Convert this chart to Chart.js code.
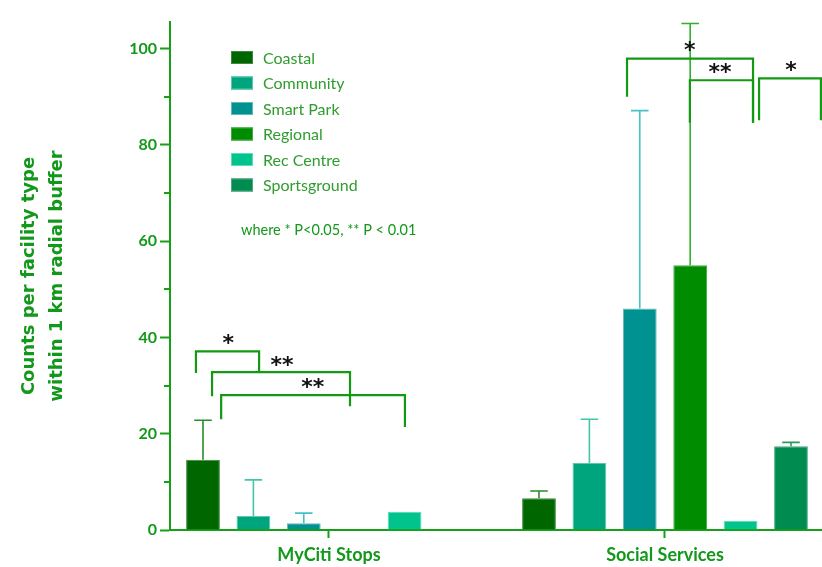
<!DOCTYPE html>
<html>
<head>
<meta charset="utf-8">
<script src="https://cdn.jsdelivr.net/npm/chart.js@4.4.1/dist/chart.umd.min.js"></script>
<style>
    html, body { margin: 0; padding: 0; background: #ffffff; }
    #wrap { width: 822px; height: 567px; position: relative; }
</style>
</head>
<body>
<div id="wrap"><canvas id="facilityChart"></canvas></div>
<script>
const categories = ['MyCiti Stops', 'Social Services'];
const facilityTypes = ['Coastal', 'Community', 'Smart Park', 'Regional', 'Rec Centre', 'Sportsground'];

// mean counts and upper error per category
const coastalMean = [14.6, 6.6];
const coastalErr = [8.2, 1.5];
const communityMean = [2.9, 13.9];
const communityErr = [7.5, 9.1];
const smartParkMean = [1.4, 46.0];
const smartParkErr = [2.1, 41.1];
const regionalMean = [0, 55.0];
const regionalErr = [0, 50.2];
const recCentreMean = [3.8, 1.9];
const recCentreErr = [0, 0];
const sportsgroundMean = [0, 17.4];
const sportsgroundErr = [0, 0.8];

const means = [coastalMean, communityMean, smartParkMean, regionalMean, recCentreMean, sportsgroundMean];
const errors = [coastalErr, communityErr, smartParkErr, regionalErr, recCentreErr, sportsgroundErr];

const colors = {
    axis: '#16a016',
    text: '#12981a',
    legendText: '#2f9c2f',
    fills: ['#006600', '#00a57d', '#009191', '#008c00', '#00c48c', '#008c50'],
    edges: ['#3c8a3c', '#5cc8ac', '#5cbcbc', '#3cb03c', '#5cdcb4', '#4caa7c'],
    whiskers: ['#2a8c2a', '#44c4ac', '#44c2c8', '#2eb02e', '#44d4a8', '#2a9a5a']
};

// significance brackets, x in category units, y in counts
const brackets = [
    { x1: -0.396, x2: -0.208, top: 37.1, foot1: 32.6, foot2: 32.8, label: '*', lx: -0.300, ly: 39.6 },
    { x1: -0.348, x2: 0.0625, top: 32.8, foot1: 27.8, foot2: 25.7, label: '**', lx: -0.140, ly: 35.1 },
    { x1: -0.321, x2: 0.226, top: 28.0, foot1: 23.0, foot2: 21.4, label: '**', lx: -0.048, ly: 30.5 },
    { x1: 0.887, x2: 1.262, top: 97.9, foot1: 90.0, foot2: 84.6, label: '*', lx: 1.074, ly: 100.6 },
    { x1: 1.074, x2: 1.262, top: 93.4, foot1: 84.6, foot2: 84.6, label: '**', lx: 1.164, ly: 95.9 },
    { x1: 1.280, x2: 1.464, top: 93.8, foot1: 85.1, foot2: 85.1, label: '*', lx: 1.375, ly: 96.3 }
];

const datasets = facilityTypes.map((name, i) => ({
    label: name,
    data: means[i].map((v, j) => ({ x: j, y: v })),
    backgroundColor: colors.fills[i],
    borderColor: colors.edges[i],
    borderWidth: ctx => (ctx.raw && ctx.raw.y > 0 ? 1 : 0),
    borderSkipped: 'bottom',
    categoryPercentage: 0.9,
    barPercentage: 0.67
}));

// error whiskers, minor y ticks, legend, significance marks
const overlay = {
    id: 'overlay',
    afterDatasetsDraw(chart) {
        const { ctx, scales: { x, y } } = chart;
        ctx.save();

        // whiskers (upper only)
        datasets.forEach((ds, i) => {
            const meta = chart.getDatasetMeta(i);
            meta.data.forEach((bar, j) => {
                const err = errors[i][j];
                if (!err) return;
                const yTop = y.getPixelForValue(means[i][j] + err);
                const cap = bar.width * 0.26;
                ctx.strokeStyle = colors.whiskers[i];
                ctx.lineWidth = 1.6;
                ctx.beginPath();
                ctx.moveTo(bar.x, bar.y);
                ctx.lineTo(bar.x, yTop);
                ctx.moveTo(bar.x - cap, yTop);
                ctx.lineTo(bar.x + cap, yTop);
                ctx.stroke();
            });
        });

        // shorter minor ticks on y
        ctx.strokeStyle = colors.axis;
        ctx.lineWidth = 2;
        y.ticks.forEach(t => {
            if (t.value % 20 === 0) return;
            const py = Math.round(y.getPixelForValue(t.value));
            ctx.beginPath();
            ctx.moveTo(chart.chartArea.left - 6, py);
            ctx.lineTo(chart.chartArea.left, py);
            ctx.stroke();
        });

        // brackets
        ctx.strokeStyle = '#129a12';
        ctx.lineWidth = 2.2;
        ctx.lineJoin = 'miter';
        brackets.forEach(b => {
            const xa = x.getPixelForValue(b.x1);
            const xb = x.getPixelForValue(b.x2);
            ctx.beginPath();
            ctx.moveTo(xa, y.getPixelForValue(b.foot1));
            ctx.lineTo(xa, y.getPixelForValue(b.top));
            ctx.lineTo(xb, y.getPixelForValue(b.top));
            ctx.lineTo(xb, y.getPixelForValue(b.foot2));
            ctx.stroke();
        });

        // asterisks
        ctx.fillStyle = '#111111';
        ctx.font = 'bold 22px "DejaVu Sans"';
        ctx.textAlign = 'center';
        ctx.textBaseline = 'alphabetic';
        brackets.forEach(b => {
            const m = ctx.measureText(b.label);
            const cy = y.getPixelForValue(b.ly);
            ctx.fillText(b.label, x.getPixelForValue(b.lx),
                cy + (m.actualBoundingBoxAscent - m.actualBoundingBoxDescent) / 2);
        });

        // legend
        const lx = chart.chartArea.left + 61;
        ctx.textAlign = 'left';
        ctx.textBaseline = 'middle';
        ctx.font = '16px Lato';
        facilityTypes.forEach((name, i) => {
            const cy = 57.5 + i * 25.5;
            ctx.fillStyle = colors.fills[i];
            ctx.fillRect(lx, cy - 6.5, 22, 13);
            ctx.strokeStyle = colors.edges[i];
            ctx.lineWidth = 1;
            ctx.strokeRect(lx + 0.5, cy - 6, 21, 12);
            ctx.fillStyle = colors.legendText;
            ctx.fillText(name, lx + 32, cy + 1);
        });
        ctx.fillStyle = colors.text;
        ctx.font = '14.5px Lato';
        ctx.fillText('where * P<0.05, ** P < 0.01', lx + 10, 230);

        ctx.restore();
    }
};

new Chart(document.getElementById('facilityChart').getContext('2d'), {
    type: 'bar',
    data: { datasets },
    options: {
        maintainAspectRatio: false,
        responsive: true,
        animation: false,
        layout: {
            padding: { left: 0, right: 0, top: 22, bottom: 0 }
        },
        plugins: {
            legend: { display: false },
            tooltip: { enabled: false }
        },
        scales: {
            x: {
                type: 'linear',
                offset: false,
                min: -0.4732,
                max: 1.4673,
                afterBuildTicks: scale => {
                    scale.ticks = categories.map((c, i) => ({ value: i }));
                },
                afterFit: scale => { scale.height = 37; },
                border: { color: colors.axis, width: 2 },
                grid: {
                    offset: false,
                    drawOnChartArea: false,
                    color: colors.axis,
                    tickLength: 8,
                    tickWidth: 2
                },
                ticks: {
                    padding: 6,
                    color: colors.text,
                    font: { family: 'Lato', size: 18, weight: 'bold' },
                    callback: value => categories[value]
                }
            },
            y: {
                min: 0,
                max: 105.5,
                afterFit: scale => { scale.width = 170; },
                border: { color: colors.axis, width: 2 },
                grid: {
                    drawOnChartArea: false,
                    tickLength: 10,
                    tickWidth: 2,
                    tickColor: ctx => (ctx.tick && ctx.tick.value % 20 === 0 ? colors.axis : 'rgba(0,0,0,0)')
                },
                ticks: {
                    stepSize: 10,
                    includeBounds: false,
                    padding: 3,
                    color: colors.text,
                    font: { family: 'Lato', size: 16, weight: 'bold' },
                    callback: value => (value % 20 === 0 ? value : '')
                },
                title: {
                    display: true,
                    text: ['Counts per facility type', 'within 1 km radial buffer'],
                    color: colors.text,
                    padding: { top: 15, bottom: 0 },
                    font: { family: 'DejaVu Sans', size: 18, weight: 'bold', lineHeight: 1.55 }
                }
            }
        }
    },
    plugins: [overlay]
});
</script>
</body>
</html>
